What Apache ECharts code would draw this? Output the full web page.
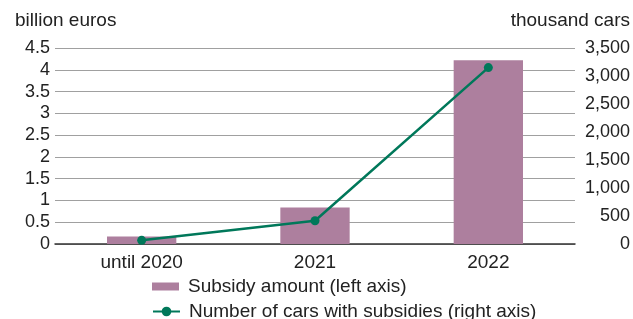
<!DOCTYPE html>
<html>
<head>
<meta charset="utf-8">
<script src="https://cdn.jsdelivr.net/npm/echarts@6/dist/echarts.min.js"></script>
<style>
  html, body { margin: 0; padding: 0; background: #fff; }
  #chart { width: 633px; height: 319px; }
</style>
</head>
<body>
<div id="chart"></div>
<script>
const categories = ['until 2020', '2021', '2022'];
const subsidyAmount = [0.17, 0.84, 4.22];     // billion euros
const carsWithSubsidy = [65, 415, 3150];      // thousand cars

const chart = echarts.init(document.getElementById('chart'));
const font = 'Liberation Sans, Arial, sans-serif';
const txt = { fontSize: 19, color: '#222', fontFamily: font };
const tickTxt = { fontSize: 18, color: '#222', fontFamily: font };

const legendBase = {
  left: 152,
  itemWidth: 27,
  padding: 0,
  textStyle: Object.assign({ padding: [0, 0, 0, 4] }, txt)
};

chart.setOption({
  animation: false,
  textStyle: { fontFamily: font },
  grid: { left: 55, right: 58, top: 48, bottom: 75 },
  legend: [
    Object.assign({}, legendBase, {
      top: 277,
      itemHeight: 8,
      data: [{ name: 'Subsidy amount (left axis)', icon: 'rect' }]
    }),
    Object.assign({}, legendBase, {
      top: 302,
      itemHeight: 12,
      data: [{ name: 'Number of cars with subsidies (right axis)' }]
    })
  ],
  xAxis: {
    type: 'category',
    data: categories,
    axisLine: { lineStyle: { color: '#333', width: 1.5 } },
    axisTick: { show: false },
    axisLabel: Object.assign({ margin: 9 }, txt)
  },
  yAxis: [
    {
      type: 'value',
      min: 0, max: 4.5, interval: 0.5,
      name: 'billion euros',
      nameLocation: 'end',
      nameGap: 18,
      nameTextStyle: Object.assign({ align: 'left', padding: [0, 0, 0, -40] }, txt),
      axisLine: { show: false },
      axisTick: { show: false },
      axisLabel: Object.assign({ margin: 5 }, tickTxt),
      splitLine: { lineStyle: { color: '#a0a0a0', width: 1 } }
    },
    {
      type: 'value',
      min: 0, max: 3500, interval: 500,
      name: 'thousand cars',
      nameLocation: 'end',
      nameGap: 18,
      nameTextStyle: Object.assign({ align: 'right', padding: [0, -55, 0, 0] }, txt),
      axisLine: { show: false },
      axisTick: { show: false },
      splitLine: { show: false },
      axisLabel: Object.assign({
        margin: 55, align: 'right',
        formatter: v => v.toLocaleString('en-US')
      }, tickTxt)
    }
  ],
  series: [
    {
      name: 'Subsidy amount (left axis)',
      type: 'bar',
      yAxisIndex: 0,
      data: subsidyAmount,
      barWidth: '40%',
      itemStyle: { color: '#ad7f9e' }
    },
    {
      name: 'Number of cars with subsidies (right axis)',
      type: 'line',
      yAxisIndex: 1,
      data: carsWithSubsidy,
      symbol: 'circle',
      symbolSize: 9,
      lineStyle: { color: '#00785a', width: 2.5 },
      itemStyle: { color: '#00785a' }
    }
  ]
});
</script>
</body>
</html>
